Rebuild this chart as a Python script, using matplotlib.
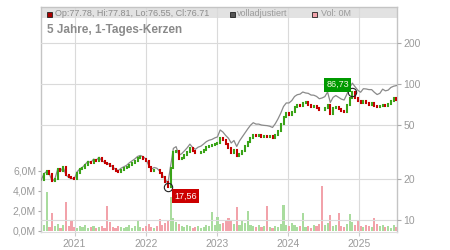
import matplotlib
matplotlib.use("Agg")
import matplotlib.pyplot as plt
from matplotlib.patches import Rectangle
from matplotlib.ticker import FixedLocator, FixedFormatter, NullLocator
import numpy as np
import pandas as pd

plt.rcParams["font.family"] = ["Liberation Sans", "DejaVu Sans"]

# closing prices, roughly every two weeks (Jul 2020 - Jul 2025)
closes = [
    19.7, 22.0, 22.8, 21.8, 19.3, 20.2, 23.8, 22.9, 24.5, 21.5,
    20.6, 20.3, 20.1, 22.4, 23.6, 24.3, 25.5, 26.8, 26.2, 27.8,
    27.3, 28.7, 27.0, 26.4, 26.0, 25.2, 23.9, 22.9, 22.5, 23.4,
    24.0, 24.6, 25.6, 26.5, 27.4, 28.5, 29.0, 28.4, 27.4, 24.4,
    22.8, 23.5, 23.2, 22.1, 20.6, 19.2, 17.56, 24.0, 31.5, 32.4,
    28.0, 28.8, 30.2, 31.8, 33.8, 32.0, 31.0, 31.3, 31.8, 33.0,
    34.4, 35.2, 35.6, 36.5, 37.2, 40.0, 38.6, 36.4, 33.9, 31.3,
    32.6, 29.5, 30.8, 32.2, 34.8, 37.4, 40.5, 42.3, 41.6, 42.0,
    41.0, 41.4, 40.6, 41.2, 40.0, 42.6, 45.5, 50.5, 57.0, 61.0,
    59.5, 62.0, 67.5, 70.2, 68.5, 72.8, 73.5, 70.0, 67.5, 69.0,
    66.5, 65.0, 64.2, 66.8, 70.5, 60.0, 66.5, 68.0, 65.5, 63.0,
    62.0, 70.0, 78.5, 86.73, 79.5, 75.0, 72.5, 74.5, 73.0, 70.0,
    72.8, 69.5, 67.5, 69.5, 70.5, 68.5, 71.0, 75.5, 79.0, 76.71,
]

# fully adjusted ("volladjustiert") line
adjusted = [
    19.7, 22.0, 22.8, 21.8, 19.3, 20.2, 23.8, 22.9, 24.5, 21.5,
    20.6, 20.3, 20.1, 22.6, 23.8, 24.5, 25.8, 27.1, 26.5, 28.1,
    27.6, 29.0, 27.3, 26.7, 26.3, 25.5, 24.6, 23.6, 23.2, 24.1,
    24.7, 25.3, 26.4, 27.3, 28.2, 29.4, 29.9, 29.3, 28.2, 25.4,
    23.7, 24.4, 24.1, 23.0, 21.4, 20.0, 18.6, 25.0, 33.7, 34.7,
    30.0, 30.8, 32.3, 34.0, 36.2, 34.2, 33.2, 34.4, 35.0, 36.3,
    37.8, 38.7, 39.2, 40.2, 40.9, 46.0, 44.4, 41.9, 40.0, 36.9,
    38.5, 34.8, 38.2, 40.9, 43.8, 46.8, 49.8, 52.0, 50.8, 50.8,
    50.0, 49.7, 49.5, 49.0, 48.0, 51.1, 55.5, 61.1, 68.4, 72.6,
    72.6, 75.6, 81.0, 83.5, 84.3, 87.4, 86.0, 85.4, 83.0, 82.8,
    81.1, 78.0, 79.0, 80.8, 87.4, 73.2, 79.8, 82.3, 79.9, 77.5,
    76.3, 84.0, 94.2, 101.5, 95.4, 90.0, 87.0, 92.4, 92.0, 91.0,
    91.0, 86.9, 83.7, 85.5, 91.7, 89.1, 90.2, 94.4, 96.4, 97.4,
]

# volume in millions
volumes = [
    0.5, 0.6, 3.9, 0.4, 1.8, 0.5, 0.7, 0.3, 0.6, 2.9,
    0.5, 1.0, 0.4, 0.3, 0.5, 0.4, 0.6, 0.3, 0.4, 0.5,
    0.3, 0.4, 0.5, 0.3, 2.5, 0.9, 0.4, 0.3, 0.5, 0.4,
    0.3, 0.4, 0.6, 0.3, 0.5, 1.0, 0.4, 0.3, 0.5, 0.7,
    0.4, 0.3, 0.5, 1.2, 0.6, 0.8, 1.1, 3.4, 1.3, 0.9,
    0.7, 0.5, 0.4, 0.6, 0.5, 0.3, 0.4, 0.5, 0.3, 0.4,
    0.6, 0.5, 1.9, 0.6, 1.4, 0.7, 0.8, 1.0, 1.3, 1.1,
    0.7, 2.4, 0.6, 1.0, 0.8, 2.0, 0.6, 0.5, 0.4, 0.6,
    0.4, 0.5, 2.5, 0.4, 0.3, 0.5, 0.4, 0.7, 2.6, 0.6,
    0.5, 0.8, 0.6, 0.4, 0.5, 1.8, 0.4, 0.5, 0.3, 0.6,
    0.5, 0.7, 4.5, 0.6, 0.8, 1.6, 0.5, 0.6, 1.8, 0.5,
    0.4, 0.7, 1.7, 0.9, 0.6, 1.0, 0.5, 0.4, 0.6, 0.5,
    0.4, 1.3, 0.7, 0.5, 0.6, 0.4, 0.5, 0.3, 0.6, 0.4,
]

price_ticks = [10, 20, 50, 100, 200]
price_labels = ["10", "20", "50", "100", "200"]
vol_ticks = [0, 2, 4, 6]
vol_labels = ["0,0M", "2,0M", "4,0M", "6,0M"]
years = ["2021", "2022", "2023", "2024", "2025"]

dates = pd.date_range("2020-07-14", "2025-07-11", periods=len(closes))
opens = [closes[0]] + closes[:-1]
up = [c >= o for c, o in zip(closes, opens)]
candle_colors = ["#3aa318" if u else "#c40000" for u in up]
vol_colors = ["#a9dc9e" if u else "#f2a2aa" for u in up]

fig = plt.figure(figsize=(4.5, 2.5), dpi=100)
ax_vol = fig.add_axes([41 / 450, 18 / 250, 356 / 450, 225 / 250])
ax = ax_vol.twinx()

# volume axis (bottom layer)
ax_vol.add_patch(Rectangle((0, 214 / 225), 1, 11 / 225, transform=ax_vol.transAxes,
                           facecolor="#e2e2e2", edgecolor="none", zorder=0.5))
year_dates = pd.to_datetime([y + "-01-01" for y in years])
for d in year_dates:
    ax_vol.axvline(d, color="#dadada", lw=0.8, zorder=1)
ax_vol.bar(dates, volumes, width=11, color=vol_colors, zorder=2)
ax_vol.set_xlim(pd.Timestamp("2020-07-13"), pd.Timestamp("2025-07-14"))
ax_vol.set_ylim(-0.1, 22.4)
ax_vol.yaxis.set_major_locator(FixedLocator(vol_ticks))
ax_vol.yaxis.set_major_formatter(FixedFormatter(vol_labels))
ax_vol.set_xticks(year_dates)
ax_vol.set_xticklabels(years)
ax_vol.tick_params(axis="y", length=2.5, pad=1, color="#aaaaaa", labelcolor="#9a9a9a", labelsize=7.5)
ax_vol.tick_params(axis="x", length=3, pad=2, color="#cccccc", labelcolor="#9a9a9a", labelsize=7.5)
for side in ["left", "right", "top"]:
    ax_vol.spines[side].set_color("#c4c4c4")
    ax_vol.spines[side].set_linewidth(1.0)
ax_vol.spines["bottom"].set_color("#dddddd")

# price axis (log scale, right side)
ax.set_yscale("log")
ax.set_ylim(8.2, 367.6)
for p in price_ticks:
    ax.axhline(p, color="#dadada", lw=0.8, zorder=0)
ax.yaxis.set_major_locator(FixedLocator(price_ticks))
ax.yaxis.set_major_formatter(FixedFormatter(price_labels))
ax.yaxis.set_minor_locator(NullLocator())
ax.tick_params(axis="y", length=3, pad=1.5, color="#aaaaaa", labelcolor="#9a9a9a", labelsize=7.5)
for side in ax.spines:
    ax.spines[side].set_visible(False)

ax.plot(dates, adjusted, color="#8a8a8a", lw=0.9, zorder=2)
ax.vlines(dates, opens, closes, colors=candle_colors, lw=1.5, zorder=3, capstyle="projecting")

# min / max markers
i_min = int(np.argmin(closes))
i_max = int(np.argmax(closes))
for i in [i_min, i_max]:
    ax.plot(dates[i], closes[i], "o", mfc="none", mec="#222222", ms=6, mew=0.8, zorder=4)
ax.annotate(f"{closes[i_min]:.2f}".replace(".", ","), xy=(dates[i_min], closes[i_min]),
            xytext=(12.5, -6.5), textcoords="offset points", ha="center", va="center",
            color="white", fontsize=6.5,
            bbox=dict(boxstyle="square,pad=0.25", fc="#cc0000", ec="none"), zorder=5)
ax.annotate(f"{closes[i_max]:.2f}".replace(".", ","), xy=(dates[i_max], closes[i_max]),
            xytext=(-10.5, 5.5), textcoords="offset points", ha="center", va="center",
            color="#f4f4e0", fontsize=6.5,
            bbox=dict(boxstyle="square,pad=0.25", fc="#009a00", ec="none"), zorder=5)

# legend band and title
ax.add_patch(Rectangle((6 / 356, 215 / 225), 5 / 356, 5 / 225, transform=ax.transAxes,
                       facecolor="#aa0000", edgecolor="#222222", lw=0.6, zorder=6))
ax.text(14 / 356, 215.5 / 225, "Op:77.78, Hi:77.81, Lo:76.55, Cl:76.71", transform=ax.transAxes,
        fontsize=6.5, color="#8c8c8c", va="baseline", zorder=6)
ax.add_patch(Rectangle((189 / 356, 215 / 225), 5 / 356, 5 / 225, transform=ax.transAxes,
                       facecolor="#555555", edgecolor="#222222", lw=0.6, zorder=6))
ax.text(196 / 356, 215.5 / 225, "volladjustiert", transform=ax.transAxes,
        fontsize=6.5, color="#9a9a9a", va="baseline", zorder=6)
ax.add_patch(Rectangle((271 / 356, 215 / 225), 5 / 356, 5 / 225, transform=ax.transAxes,
                       facecolor="#f2a2aa", edgecolor="#222222", lw=0.6, zorder=6))
ax.text(280 / 356, 215.5 / 225, "Vol: 0M", transform=ax.transAxes,
        fontsize=6.5, color="#9a9a9a", va="baseline", zorder=6)
ax.text(6 / 356, 199 / 225, "5 Jahre, 1-Tages-Kerzen", transform=ax.transAxes,
        fontsize=8.5, fontweight="bold", color="#8a8a8a", va="baseline", zorder=6)

fig.savefig("out.png", dpi=100)
